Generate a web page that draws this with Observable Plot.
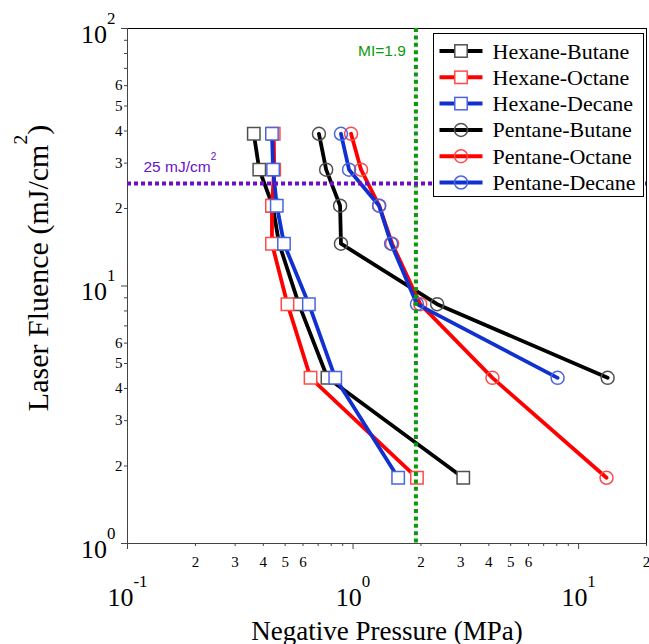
<!DOCTYPE html>
<html><head><meta charset="utf-8">
<script src="https://cdn.jsdelivr.net/npm/d3@7"></script>
<script src="https://cdn.jsdelivr.net/npm/@observablehq/plot@0.6"></script>
<style>html,body{margin:0;padding:0;background:#fff}</style>
</head><body><div id="chart"></div>
<script>
// ---- data ----
const fluence = [39, 28.3, 20.5, 14.6, 8.5, 4.4, 1.8];            // mJ/cm^2
const seriesNames = ["Hexane-Butane", "Hexane-Octane", "Hexane-Decane",
                     "Pentane-Butane", "Pentane-Octane", "Pentane-Decane"];
const hexaneButane  = [0.363, 0.384, 0.44, 0.47, 0.575, 0.77, 3.08];
const hexaneOctane  = [0.445, 0.447, 0.437, 0.437, 0.512, 0.648, 1.92];
const hexaneDecane  = [0.437, 0.442, 0.459, 0.494, 0.637, 0.834, 1.585];
const pentaneButane = [0.706, 0.76, 0.876, 0.884, 2.36, 13.45];
const pentaneOctane = [0.98, 1.085, 1.305, 1.49, 1.985, 4.15, 13.3];
const pentaneDecane = [0.884, 0.96, 1.305, 1.475, 1.92, 8.07];
const xMajorTicks = [0.1, 1, 10];
const xMinorTicks = [0.2, 0.3, 0.4, 0.5, 0.6, 0.7, 0.8, 0.9, 2, 3, 4, 5, 6, 7, 8, 9, 20];
const yMajorTicks = [1, 10, 100];
const yMinorTicks = [2, 3, 4, 5, 6, 7, 8, 9, 20, 30, 40, 50, 60, 70, 80, 90];
const labeledMantissas = [2, 3, 4, 5, 6];
const miValue = 1.9;
const fluenceRef = 25;
const xTitle = "Negative Pressure (MPa)";
const yTitle = "Laser Fluence (mJ/cm^{2})";
const refLabel = "25 mJ/cm^{2}";

// ---- styles ----
const seriesValues = [hexaneButane, hexaneOctane, hexaneDecane, pentaneButane, pentaneOctane, pentaneDecane];
const lineColors = ["#000000", "#ff0000", "#1030d0", "#000000", "#ff0000", "#1030d0"];
const markerColors = ["#505050", "#ff4a4a", "#4a66dd", "#505050", "#ff4a4a", "#4a66dd"];
const symbols = ["square", "square", "square", "circle", "circle", "circle"];
const purple = "#6a10c8", green = "#0a9a0a";

const rowsOf = (i) => seriesValues[i].map((p, k) => ({series: seriesNames[i], pressure: p, fluence: fluence[k]}));
const mantissa = d => Math.round(d / 10 ** Math.floor(Math.log10(d) + 1e-9));
const isLabeled = d => labeledMantissas.includes(mantissa(d));
const expLabel = d => `10^{${Math.round(Math.log10(d))}}`;

const marks = [
  Plot.ruleY([100], {stroke: "#000", strokeWidth: 1}),
  Plot.ruleX([20], {stroke: "#000", strokeWidth: 1}),
  Plot.ruleX([0.1], {stroke: "#444", strokeWidth: 1}),
  Plot.ruleY([1], {stroke: "#444", strokeWidth: 1}),
  Plot.axisX(xMinorTicks, {anchor: "bottom", tickSize: 3, tickFormat: () => "", label: null, stroke: "#444"}),
  Plot.axisX(xMajorTicks, {anchor: "bottom", tickSize: 6, tickFormat: () => "", label: null, stroke: "#444"}),
  Plot.axisY(yMinorTicks, {anchor: "left", tickSize: 3, tickFormat: () => "", label: null, stroke: "#444"}),
  Plot.axisY(yMajorTicks, {anchor: "left", tickSize: 6, tickFormat: () => "", label: null, stroke: "#444"}),
  Plot.text(xMinorTicks.filter(isLabeled), {x: d => d, frameAnchor: "bottom", text: d => String(mantissa(d)), textAnchor: "middle", dy: 13, lineAnchor: "top", fontSize: 15}),
  Plot.text(yMinorTicks.filter(isLabeled), {y: d => d, frameAnchor: "left", text: d => String(mantissa(d)), textAnchor: "end", dx: -5, lineAnchor: "middle", fontSize: 15}),
  Plot.text(xMajorTicks, {x: d => d, frameAnchor: "bottom", text: expLabel, textAnchor: "middle", dy: 62, lineAnchor: "bottom", fontSize: 26}),
  Plot.text(yMajorTicks, {y: d => d, frameAnchor: "left", text: expLabel, textAnchor: "end", dx: -12, dy: 14, lineAnchor: "bottom", fontSize: 26}),
  Plot.text([xTitle], {frameAnchor: "bottom", text: d => d, textAnchor: "middle", dy: 96, lineAnchor: "bottom", fontSize: 27}),
  Plot.text([yTitle], {frameAnchor: "left", text: d => d, textAnchor: "middle", lineAnchor: "middle", rotate: -90, dx: -89, dy: -18, fontSize: 30})
];
seriesNames.forEach((name, i) => {
  marks.push(Plot.line(rowsOf(i), {x: "pressure", y: "fluence", stroke: lineColors[i], strokeWidth: 3.8}));
  marks.push(Plot.dot(rowsOf(i), {x: "pressure", y: "fluence", symbol: symbols[i],
    r: symbols[i] === "square" ? 7 : 6.5, stroke: markerColors[i], strokeWidth: 1.5,
    fill: symbols[i] === "square" ? "#fff" : "none"}));
});
marks.push(
  Plot.ruleX([miValue], {stroke: green, strokeWidth: 4, strokeDasharray: "4,3.4"}),
  Plot.ruleY([fluenceRef], {stroke: purple, strokeWidth: 4, strokeDasharray: "4,3"}),
  Plot.text([miValue], {x: d => d, frameAnchor: "top", text: d => `MI=${d}`, textAnchor: "end", dx: -10, dy: 27, lineAnchor: "bottom", fill: green, fontFamily: "'Liberation Sans', sans-serif", fontSize: 15.5}),
  Plot.text([fluenceRef], {y: d => d, frameAnchor: "left", text: () => refLabel, textAnchor: "start", dx: 16, dy: -12, lineAnchor: "bottom", fill: purple, fontFamily: "'Liberation Sans', sans-serif", fontSize: 15.5})
);

const plot = Plot.plot({
  width: 649, height: 644,
  marginLeft: 127, marginRight: 3, marginTop: 28, marginBottom: 101,
  x: {type: "log", domain: [0.1, 20], label: null},
  y: {type: "log", domain: [1, 100], label: null},
  style: {fontFamily: "'Liberation Serif', 'Times New Roman', serif", fontSize: "15px", color: "#000", background: "#fff", overflow: "visible"},
  marks
});

// superscripts: "a^{b}c"
const supShift = 0.72, supSize = 0.65;
d3.select(plot).selectAll("text").each(function () {
  const s = this.textContent;
  const m = s.match(/^(.*?)\^\{([^}]*)\}(.*)$/);
  if (!m || this.querySelector("tspan")) return;
  const t = d3.select(this);
  t.text(null);
  t.append("tspan").text(m[1]);
  t.append("tspan").attr("dy", `${-supShift / supSize}em`).attr("font-size", `${supSize}em`).text(m[2]);
  if (m[3]) t.append("tspan").attr("dy", `${supShift}em`).text(m[3]);
});

// legend
const svg = d3.select(plot);
const lg = svg.append("g").attr("font-family", "'Liberation Serif', 'Times New Roman', serif")
  .attr("font-size", 22).attr("text-anchor", "start");
lg.append("rect").attr("x", 433.5).attr("y", 33.5).attr("width", 210).attr("height", 163)
  .attr("fill", "#fff").attr("stroke", "#000").attr("stroke-width", 1);
seriesNames.forEach((name, i) => {
  const cy = 51 + i * 26.3;
  lg.append("line").attr("x1", 439.5).attr("x2", 482.5).attr("y1", cy).attr("y2", cy)
    .attr("stroke", lineColors[i]).attr("stroke-width", 4);
  if (symbols[i] === "square") {
    lg.append("rect").attr("x", 461 - 6.2).attr("y", cy - 6.2).attr("width", 12.4).attr("height", 12.4)
      .attr("fill", "#fff").attr("stroke", markerColors[i]).attr("stroke-width", 1.5);
  } else {
    lg.append("circle").attr("cx", 461).attr("cy", cy).attr("r", 6.5)
      .attr("fill", "none").attr("stroke", markerColors[i]).attr("stroke-width", 1.5);
  }
  lg.append("text").attr("x", 492.5).attr("y", cy + 7.5).attr("text-anchor", "start").text(name);
});

document.getElementById("chart").appendChild(plot);
</script>
</body></html>
